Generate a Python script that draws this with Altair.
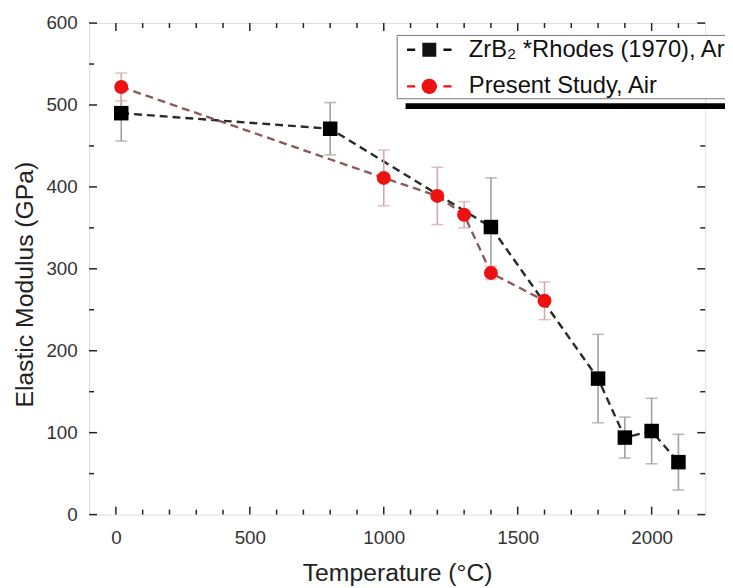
import altair as alt
import pandas as pd

# ---- data ----
series_names = ["ZrB\u2082 *Rhodes (1970), Ar", "Present Study, Air"]

rh_T = [20, 800, 1400, 1800, 1900, 2000, 2100]
rh_E = [490, 471, 351, 166, 94, 102, 64]
rh_err = [34, 32, 60, 54, 25, 40, 34]

ps_T = [20, 1000, 1200, 1300, 1400, 1600]
ps_E = [522, 411, 389, 366, 295, 261]
ps_err = [17, 34, 35, 16, 8, 23]

x_major = [0, 500, 1000, 1500, 2000]
x_minor = [v for v in range(100, 2200, 100) if v % 500 != 0]
y_major = [0, 100, 200, 300, 400, 500, 600]
y_minor = [50, 150, 250, 350, 450, 550]

W, H = 623, 497
FONT = "Liberation Sans"

rh = pd.DataFrame({"T": rh_T, "E": rh_E, "lo": [e - d for e, d in zip(rh_E, rh_err)],
                   "hi": [e + d for e, d in zip(rh_E, rh_err)], "series": series_names[0]})
ps = pd.DataFrame({"T": ps_T, "E": ps_E, "lo": [e - d for e, d in zip(ps_E, ps_err)],
                   "hi": [e + d for e, d in zip(ps_E, ps_err)], "series": series_names[1]})
both = pd.concat([rh, ps], ignore_index=True)

xscale = alt.Scale(domain=[-100, 2200], nice=False, zero=False)
yscale = alt.Scale(domain=[0, 600], nice=False, zero=False)
xaxis = alt.Axis(title="Temperature (\u00b0C)", values=x_major, format="d", ticks=False, tickSize=0,
                 domain=False, grid=False,
                 labelFontSize=19, labelPadding=14, titleFontSize=25, titlePadding=14,
                 labelColor="#333", titleColor="#222", labelFont=FONT, titleFont=FONT,
                 titleFontWeight="normal")
yaxis = alt.Axis(title="Elastic Modulus (GPa)", values=y_major, format="d", ticks=False, tickSize=0,
                 domain=False, grid=False,
                 labelFontSize=19, labelPadding=12, titleFontSize=25, titlePadding=9, titleY=264,
                 labelColor="#333", titleColor="#222", labelFont=FONT, titleFont=FONT,
                 titleFontWeight="normal")


def X(f):
    return alt.X(f"{f}:Q", scale=xscale, axis=xaxis)


def Y(f):
    return alt.Y(f"{f}:Q", scale=yscale, axis=yaxis)


def series_layers(df, line_color, bar_color, marker):
    base = alt.Chart(df)
    line = base.mark_line(color=line_color, strokeWidth=2.4, strokeDash=[8, 5]).encode(x=X("T"), y=Y("E"))
    bar = base.mark_rule(color=bar_color, strokeWidth=1.6).encode(x=X("T"), y=Y("lo"), y2="hi:Q")
    cap_lo = base.mark_tick(color=bar_color, orient="horizontal", size=12, thickness=1.6).encode(x=X("T"), y=Y("lo"))
    cap_hi = base.mark_tick(color=bar_color, orient="horizontal", size=12, thickness=1.6).encode(x=X("T"), y=Y("hi"))
    return [bar, cap_lo, cap_hi, line, marker.encode(x=X("T"), y=Y("E"))]


rh_layers = series_layers(rh, "#2a2a2a", "#a0a0a0",
                          alt.Chart(rh).mark_square(color="#000000", size=215, opacity=1))
ps_layers = series_layers(ps, "#8a5a5a", "#d4a8a8",
                          alt.Chart(ps).mark_circle(color="#ee1111", size=200, opacity=1))

# legend (symbols: dashed line + marker)
sq_path = "M-0.47,-0.47L0.47,-0.47L0.47,0.47L-0.47,0.47Z M-1.5,-0.08L-0.95,-0.08L-0.95,0.08L-1.5,0.08Z M0.95,-0.08L1.5,-0.08L1.5,0.08L0.95,0.08Z"
ci_path = "M-0.52,0A0.52,0.52 0 1,0 0.52,0A0.52,0.52 0 1,0 -0.52,0Z M-1.5,-0.08L-0.95,-0.08L-0.95,0.08L-1.5,0.08Z M0.95,-0.08L1.5,-0.08L1.5,0.08L0.95,0.08Z"
leg = alt.Legend(title=None, orient="none", legendX=311, legendY=12, fillColor="white",
                 strokeColor="#777", padding=0, labelFontSize=24, labelFont=FONT, labelColor="#111",
                 labelLimit=500, symbolSize=900, symbolOpacity=1, symbolStrokeWidth=0,
                 rowPadding=10, labelOffset=25, symbolOffset=18)
legend_layer = alt.Chart(both).mark_point(filled=True, opacity=0).encode(
    x=X("T"), y=Y("E"),
    color=alt.Color("series:N", scale=alt.Scale(domain=series_names, range=["#111111", "#ee1111"]), legend=leg),
    shape=alt.Shape("series:N", scale=alt.Scale(domain=series_names, range=[sq_path, ci_path]), legend=leg),
)

# black bar under the legend (decoration)
shadow = alt.Chart(pd.DataFrame({"k": [0]})).mark_rule(color="#000", strokeWidth=6).encode(
    x=alt.value(320), x2=alt.value(660), y=alt.value(84))


# inward ticks on all four sides
def xt(vals, ln):
    d = alt.Chart(pd.DataFrame({"T": vals}))
    return [d.mark_rule(color="#222", strokeWidth=1.5).encode(x=X("T"), y=alt.value(H), y2=alt.value(H - ln)),
            d.mark_rule(color="#222", strokeWidth=1.5).encode(x=X("T"), y=alt.value(0), y2=alt.value(ln))]


def yt(vals, ln):
    d = alt.Chart(pd.DataFrame({"E": vals}))
    return [d.mark_rule(color="#222", strokeWidth=1.5).encode(y=Y("E"), x=alt.value(0), x2=alt.value(ln)),
            d.mark_rule(color="#222", strokeWidth=1.5).encode(y=Y("E"), x=alt.value(W), x2=alt.value(W - ln))]


ticks = xt(x_major, 8) + xt(x_minor, 5) + yt(y_major, 8) + yt(y_minor, 5)

chart = alt.layer(*ticks, *rh_layers, *ps_layers, legend_layer, shadow).properties(
    width=W, height=H,
    autosize=alt.AutoSizeParams(type="none"),
    padding={"left": 82, "top": 12, "right": 20, "bottom": 71},
).configure_view(stroke="#222", strokeWidth=2).configure(background="white")

chart.save("out.html", embed_options={"renderer": "svg", "actions": False})
